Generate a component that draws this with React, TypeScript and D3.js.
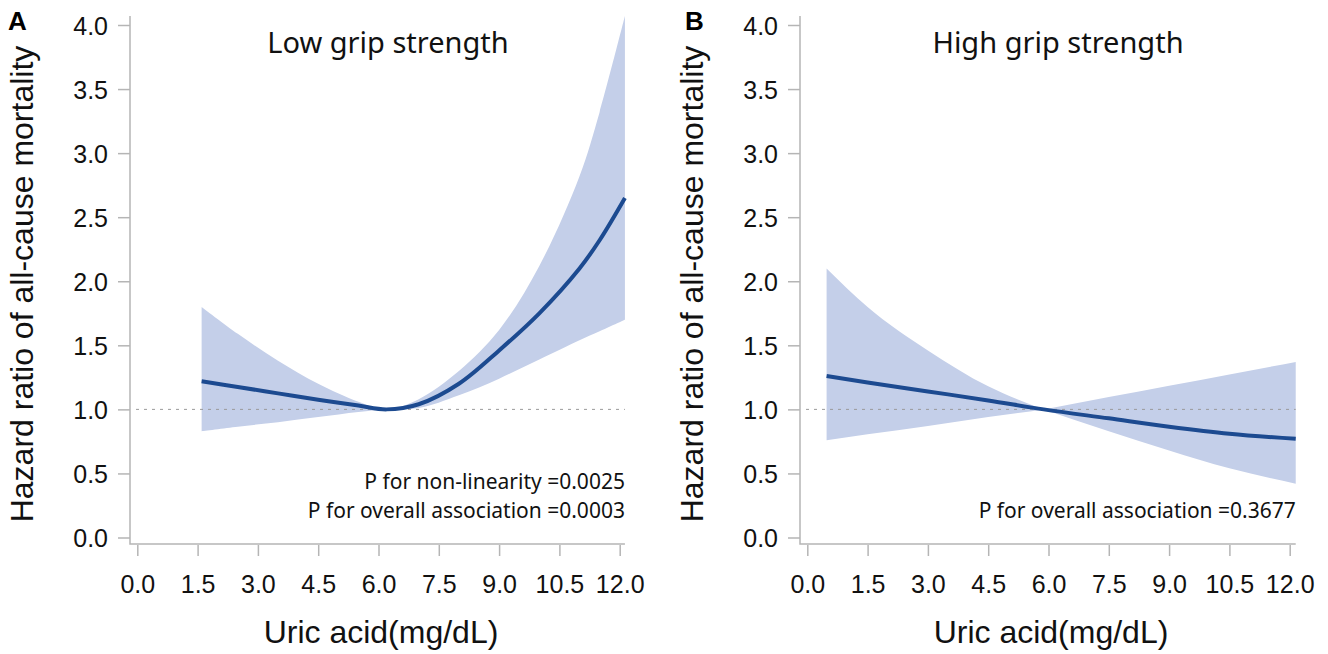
import { useEffect, useRef } from "react"
import * as d3 from "d3"

// A: low grip strength (uric acid mg/dL, hazard ratio + 95% CI)
const lowUric = [1.6, 2.5, 3.5, 4.5, 5.5, 6.2, 7.0, 8.0, 9.0, 10.0, 11.0, 11.5, 12.13]
const lowHR = [1.22, 1.175, 1.125, 1.075, 1.03, 1.0, 1.04, 1.2, 1.46, 1.75, 2.1, 2.32, 2.65]
const lowLower = [0.83, 0.865, 0.9, 0.94, 0.98, 1.0, 1.01, 1.11, 1.24, 1.39, 1.54, 1.61, 1.7]
const lowUpper = [1.8, 1.59, 1.38, 1.2, 1.06, 1.0, 1.08, 1.3, 1.62, 2.12, 2.82, 3.32, 4.07]

// B: high grip strength
const highUric = [0.48, 1.5, 3.0, 4.5, 5.88, 7.5, 9.0, 10.5, 12.15]
const highHR = [1.26, 1.21, 1.14, 1.07, 1.0, 0.93, 0.865, 0.81, 0.77]
const highLower = [0.76, 0.805, 0.87, 0.94, 1.0, 0.83, 0.68, 0.54, 0.42]
const highUpper = [2.1, 1.8, 1.46, 1.18, 1.0, 1.096, 1.184, 1.273, 1.37]

const xTicks = [0, 1.5, 3.0, 4.5, 6.0, 7.5, 9.0, 10.5, 12.0]
const yTicks = [0, 0.5, 1.0, 1.5, 2.0, 2.5, 3.0, 3.5, 4.0]

const panels = [
  {
    tag: "A",
    title: "Low grip strength",
    uric: lowUric, hr: lowHR, lo: lowLower, hi: lowUpper,
    split: -1, // smooth pinch, one band
    notes: ["P for non-linearity =0.0025", "P for overall association =0.0003"],
  },
  {
    tag: "B",
    title: "High grip strength",
    uric: highUric, hr: highHR, lo: highLower, hi: highUpper,
    split: 4, // bounds cross at the reference value
    notes: ["P for overall association =0.3677"],
  },
]

const W = 1328, H = 654
const AXIS = "#b5b5b5"
const BAND = "#c4cfe9"
const LINE = "#1c4a90"
const SANS = "'Liberation Sans', Arial, sans-serif"
const NOTE = "'Noto Sans', 'Open Sans', sans-serif"

export default function App() {
  const ref = useRef<SVGSVGElement>(null)

  useEffect(() => {
    const svg = d3.select(ref.current)
    svg.selectAll("*").remove()

    panels.forEach((p, k) => {
      const off = k * 670
      const g = svg.append("g").attr("transform", `translate(${off},0)`)

      const x = d3.scaleLinear().domain([0, 12]).range([137.3, 619.7])
      const y = d3.scaleLinear().domain([0, 4]).range([537.5, 25])
      const axisX = 130, axisY = 544
      const xEnd = x(p.uric[p.uric.length - 1])

      const rows = p.uric.map((u, i) => ({ u, hr: p.hr[i], lo: p.lo[i], hi: p.hi[i] }))
      const curve = p.split < 0 ? d3.curveCatmullRom.alpha(0.5) : d3.curveMonotoneX

      // band (split at the crossing so it stays a sharp X)
      const parts = p.split < 0 ? [rows] : [rows.slice(0, p.split + 1), rows.slice(p.split)]
      const band = d3.area<any>().curve(curve)
        .x((d) => x(d.u)).y0((d) => y(d.lo)).y1((d) => y(d.hi))
      parts.forEach((part) => {
        g.append("path").datum(part).attr("fill", BAND).attr("d", band)
      })

      // reference line HR = 1
      g.append("line")
        .attr("x1", axisX + 6).attr("x2", xEnd)
        .attr("y1", y(1)).attr("y2", y(1))
        .attr("stroke", "#9a9a9a").attr("stroke-width", 1)
        .attr("stroke-dasharray", "3,5")

      // estimate
      g.append("path")
        .datum(rows)
        .attr("fill", "none")
        .attr("stroke", LINE)
        .attr("stroke-width", 4)
        .attr("d", d3.line<any>().curve(curve).x((d) => x(d.u)).y((d) => y(d.hr)))

      // frame
      g.append("path")
        .attr("d", `M${axisX},${y(4.07)}V${axisY}H${xEnd}`)
        .attr("fill", "none").attr("stroke", AXIS).attr("stroke-width", 1.5)

      const ya = g.append("g").attr("transform", `translate(${axisX},0)`)
        .call(d3.axisLeft(y).tickValues(yTicks).tickFormat(d3.format(".1f")).tickSize(12).tickPadding(10))
      const xa = g.append("g").attr("transform", `translate(0,${axisY + 1})`)
        .call(d3.axisBottom(x).tickValues(xTicks).tickFormat(d3.format(".1f")).tickSize(11).tickPadding(19))
      ;[ya, xa].forEach((a) => {
        a.select(".domain").remove()
        a.selectAll("line").attr("stroke", AXIS).attr("stroke-width", 1.5)
        a.selectAll("text").attr("fill", "#111").style("font-family", SANS).style("font-size", "25px")
      })
      ya.selectAll("text").attr("dy", "0.37em")

      // titles
      g.append("text")
        .attr("transform", `translate(33,${284}) rotate(-90)`)
        .attr("text-anchor", "middle")
        .style("font-family", SANS).style("font-size", "32px").attr("fill", "#111")
        .text("Hazard ratio of all-cause mortality")

      g.append("text")
        .attr("x", 381).attr("y", 643)
        .attr("text-anchor", "middle")
        .style("font-family", SANS).style("font-size", "32px").attr("fill", "#111")
        .text("Uric acid(mg/dL)")

      g.append("text")
        .attr("x", 388).attr("y", 53)
        .attr("text-anchor", "middle")
        .style("font-family", NOTE).style("font-size", "29px").attr("fill", "#111")
        .text(p.title)

      g.append("text")
        .attr("x", k === 0 ? 8 : 15).attr("y", 30)
        .style("font-family", SANS).style("font-size", "26px").style("font-weight", "bold")
        .attr("fill", "#000")
        .text(p.tag)

      const n = p.notes.length
      p.notes.forEach((t, i) => {
        g.append("text")
          .attr("x", xEnd).attr("y", 518 - (n - 1 - i) * 29)
          .attr("text-anchor", "end")
          .style("font-family", NOTE).style("font-size", "21px").attr("fill", "#111")
          .text(t)
      })
    })
  }, [])

  return (
    <svg
      ref={ref}
      width={W}
      height={H}
      style={{ position: "absolute", left: 0, top: 0, background: "#fff" }}
    />
  )
}
